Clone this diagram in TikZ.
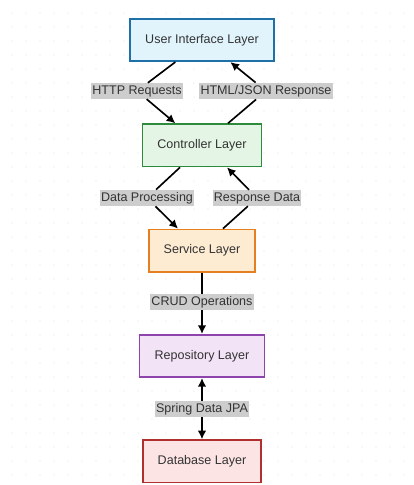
\documentclass[tikz,border=0pt]{standalone}
\usepackage{xcolor}
\usepackage{tikz}
\usepackage{fontspec}
\setmainfont{Liberation Sans}
\usetikzlibrary{arrows.meta}

\definecolor{uiline}{HTML}{1F6FA8}
\definecolor{uifill}{HTML}{E1F4FC}
\definecolor{ctrlline}{HTML}{2E8B3E}
\definecolor{ctrlfill}{HTML}{E5F5E5}
\definecolor{servline}{HTML}{E67E22}
\definecolor{servfill}{HTML}{FDEBD2}
\definecolor{repoline}{HTML}{8E44AD}
\definecolor{repofill}{HTML}{F3E3F6}
\definecolor{dbline}{HTML}{B03030}
\definecolor{dbfill}{HTML}{FDE4E4}
\definecolor{lblfill}{HTML}{CDCDCD}
\definecolor{txt}{HTML}{333333}

\begin{document}
\begin{tikzpicture}[node distance=3.16cm,
    layerbox/.style={draw, rectangle, line width=1.5pt, inner xsep=0.45cm, minimum height=1.27cm, text=txt, font=\fontsize{10.7}{13}\selectfont},
    flowlabel/.style={fill=lblfill, inner xsep=1pt, inner ysep=2pt, text=txt, font=\fontsize{10.7}{13}\selectfont},
    flow/.style={line width=1.4pt, -{Latex[length=2.6mm,width=2.6mm]}}]
    \useasboundingbox (-6.06,1.2) rectangle (6.36,-13.35);
    % Dot grid
    \foreach \i in {0,...,29}
        \foreach \j in {0,...,34}
            \fill[black!12] ({-5.7+0.42*\i},{0.81-0.42*\j}) circle (0.6pt);

    % Nodes
    \node (ui) [layerbox, draw=uiline, fill=uifill] {User Interface Layer};
    \node (ctrl) [layerbox, draw=ctrlline, fill=ctrlfill, below of=ui] {Controller Layer};
    \node (service) [layerbox, draw=servline, fill=servfill, below of=ctrl] {Service Layer};
    \node (repo) [layerbox, draw=repoline, fill=repofill, below of=service] {Repository Layer};
    \node (db) [layerbox, draw=dbline, fill=dbfill, below of=repo] {Database Layer};

    % Labels
    \node (httpreq) [flowlabel] at (-1.95,-1.53) {HTTP Requests};
    \node (htmlresp) [flowlabel] at (1.92,-1.53) {HTML/JSON Response};
    \node (dataproc) [flowlabel] at (-1.65,-4.74) {Data Processing};
    \node (respdata) [flowlabel] at (1.65,-4.74) {Response Data};
    \node (crud) [flowlabel] at (0,-7.86) {CRUD Operations};
    \node (jpa) [flowlabel] at (0,-11.07) {Spring Data JPA};

    % Arrows
    \draw[flow] ([xshift=-0.8cm]ui.south) -- (httpreq) -- ([xshift=-0.8cm]ctrl.north);
    \draw[flow] ([xshift=0.78cm]ctrl.north) -- (htmlresp) -- ([xshift=0.85cm]ui.south);
    \draw[flow] ([xshift=-0.66cm]ctrl.south) -- (dataproc) -- ([xshift=-0.72cm]service.north);
    \draw[flow] ([xshift=0.63cm]service.north) -- (respdata) -- ([xshift=0.75cm]ctrl.south);
    \draw[flow] (service) -- (crud) -- (repo);
    \draw[line width=1.4pt, {Latex[length=2.6mm,width=2.6mm]}-] (repo) -- (jpa);
    \draw[flow] (jpa) -- (db);
\end{tikzpicture}
\end{document}
